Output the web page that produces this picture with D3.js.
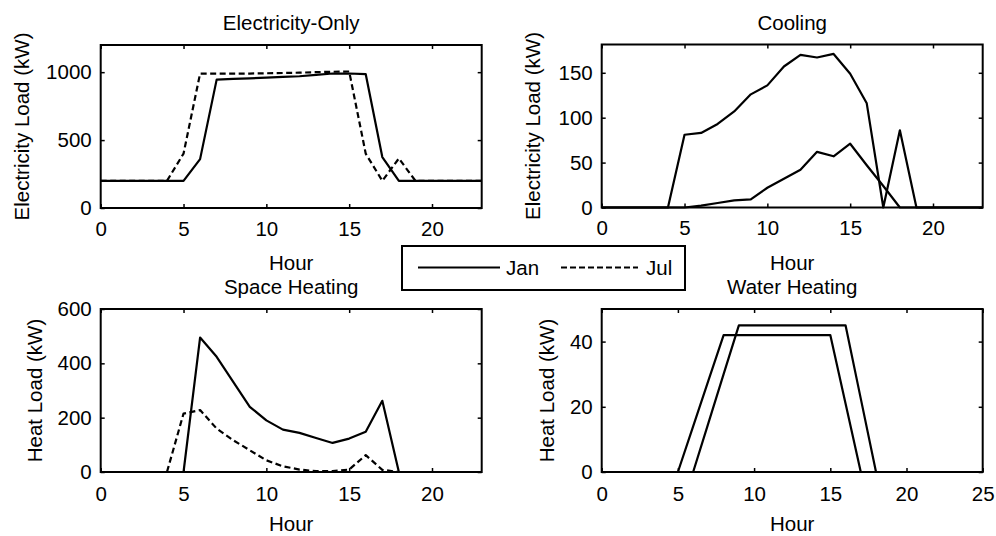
<!DOCTYPE html>
<html>
<head>
<meta charset="utf-8">
<script src="https://cdn.jsdelivr.net/npm/d3@7"></script>
<style>
body { margin: 0; background: #fff; }
text { font-family: "Liberation Sans", Arial, sans-serif; fill: #000; }
</style>
</head>
<body>
<div id="canvas"></div>
<script>
// ----------------------------------------------------------
// DATA -----------------------------------------------------
// ----------------------------------------------------------
var hours = [0,1,2,3,4,5,6,7,8,9,10,11,12,13,14,15,16,17,18,19,20,21,22,23];

var elec_jan = [200,200,200,200,200,200,360,945,950,955,960,965,970,980,990,990,985,375,200,200,200,200,200,200];
var elec_jul = [200,200,200,200,200,400,990,990,990,990,992,994,996,1000,1003,1005,400,200,365,200,200,200,200,200];

var cool_jan = [0,0,0,0,0,0,2,5,8,9,22,32,42,62,57,71,47,24,0,0,0,0,0,0];
var cool_jul = [0,0,0,0,0,81,83,93,107,126,136,157,170,167,171,149,116,0,86,0,0,0,0,0];

var heat_jan = [0,0,0,0,0,0,495,424,332,240,190,156,144,125,107,123,148,262,0,0,0,0,0,0];
var heat_jul = [0,0,0,0,0,215,228,160,117,80,43,21,9,3,3,9,62,8,0,0,0,0,0,0];

var water_jan = [0,0,0,0,0,0,0,15,30,45,45,45,45,45,45,45,45,22.5,0,0,0,0,0,0];
var water_jul = [0,0,0,0,0,0,14,28,42,42,42,42,42,42,42,42,21,0,0,0,0,0,0,0];

var titles = ["Electricity-Only", "Cooling", "Space Heating", "Water Heating"];
var y_labels = ["Electricity Load (kW)", "Electricity Load (kW)", "Heat Load (kW)", "Heat Load (kW)"];
var x_label = "Hour";
var legend_labels = ["Jan", "Jul"];

var x_ticks_a = [0, 5, 10, 15, 20];
var x_ticks_b = [0, 5, 10, 15, 20, 25];
var y_ticks_elec = [0, 500, 1000];
var y_ticks_cool = [0, 50, 100, 150];
var y_ticks_heat = [0, 200, 400, 600];
var y_ticks_water = [0, 20, 40];

// ----------------------------------------------------------
// STRUCTURE ------------------------------------------------
// ----------------------------------------------------------
var container = d3.select("#canvas").append("svg")
.attr("width", 996)
.attr("height", 536)
.style("background-color", "#fff");

var panels = [
{ left: 100.7, top: 45, x_max: 23, y_max: 1200, x_ticks: x_ticks_a, y_ticks: y_ticks_elec,
  series: [elec_jul, elec_jan], dashed: [true, false], ylab_off: 72, xlab_off: 62, tick_pad: 13 },
{ left: 601.7, top: 44.5, x_max: 23, y_max: 181.5, x_ticks: x_ticks_a, y_ticks: y_ticks_cool,
  series: [cool_jul, cool_jan], dashed: [false, false], ylab_off: 62, xlab_off: 62, tick_pad: 13 },
{ left: 100.7, top: 309, x_max: 23, y_max: 600, x_ticks: x_ticks_a, y_ticks: y_ticks_heat,
  series: [heat_jul, heat_jan], dashed: [true, false], ylab_off: 59, xlab_off: 58.5, tick_pad: 14 },
{ left: 601.7, top: 309, x_max: 25, y_max: 50, x_ticks: x_ticks_b, y_ticks: y_ticks_water,
  series: [water_jul, water_jan], dashed: [false, false], ylab_off: 48, xlab_off: 58.5, tick_pad: 14 }
];

var pw = 381;
var ph = 163;
var font_size = "20.5px";

// ----------------------------------------------------------
// GFX ------------------------------------------------------
// ----------------------------------------------------------
panels.forEach(function(p, i) {
  var g = container.append("g")
  .attr("class", "panel_" + i)
  .attr("transform", `translate(${p.left}, ${p.top})`);

  var xScale = d3.scaleLinear().domain([0, p.x_max]).range([0, pw]);
  var yScale = d3.scaleLinear().domain([0, p.y_max]).range([ph, 0]);

  // lines
  var line = d3.line()
  .x((d, k) => xScale(hours[k]))
  .y(d => yScale(d));

  p.series.forEach(function(s, k) {
    g.append("path")
    .datum(s)
    .attr("d", line)
    .attr("fill", "none")
    .attr("stroke", "#000")
    .attr("stroke-width", 2.2)
    .attr("stroke-linejoin", "round")
    .attr("stroke-dasharray", p.dashed[k] ? "6,3.5" : null);
  });

  // axes
  var ax_bottom = g.append("g")
  .attr("transform", `translate(0, ${ph})`)
  .call(d3.axisBottom(xScale).tickValues(p.x_ticks).tickSize(-4).tickPadding(p.tick_pad).tickFormat(d3.format("d")));
  var ax_top = g.append("g")
  .call(d3.axisTop(xScale).tickValues(p.x_ticks).tickSize(-4).tickFormat(""));
  var ax_left = g.append("g")
  .call(d3.axisLeft(yScale).tickValues(p.y_ticks).tickSize(-4).tickPadding(9).tickFormat(d3.format("d")));
  var ax_right = g.append("g")
  .attr("transform", `translate(${pw}, 0)`)
  .call(d3.axisRight(yScale).tickValues(p.y_ticks).tickSize(-4).tickFormat(""));

  [ax_bottom, ax_top, ax_left, ax_right].forEach(function(a) {
    a.select(".domain").remove();
    a.selectAll(".tick line").attr("stroke", "#000").attr("stroke-width", 1.5);
    a.selectAll(".tick text")
    .style("font-size", font_size)
    .style("font-family", "'Liberation Sans', Arial, sans-serif")
    .attr("fill", "#000");
  });

  // box
  g.append("rect")
  .attr("x", 0)
  .attr("y", 0)
  .attr("width", pw)
  .attr("height", ph)
  .attr("fill", "none")
  .attr("stroke", "#000")
  .attr("stroke-width", 2);

  // title
  g.append("text")
  .attr("x", pw / 2)
  .attr("y", -15)
  .attr("text-anchor", "middle")
  .style("font-size", font_size)
  .text(titles[i]);

  // x label
  g.append("text")
  .attr("x", pw / 2)
  .attr("y", ph + p.xlab_off)
  .attr("text-anchor", "middle")
  .style("font-size", font_size)
  .text(x_label);

  // y label
  g.append("text")
  .attr("transform", `translate(${-p.ylab_off}, ${ph / 2}) rotate(-90)`)
  .attr("text-anchor", "middle")
  .style("font-size", font_size)
  .text(y_labels[i]);
});

// ----------------------------------------------------------
// LEGEND ---------------------------------------------------
// ----------------------------------------------------------
var legend = container.append("g")
.attr("class", "legend")
.attr("transform", "translate(402, 246)");

legend.append("rect")
.attr("width", 283)
.attr("height", 44)
.attr("fill", "#fff")
.attr("stroke", "#000")
.attr("stroke-width", 2);

var legend_items = [
{ x1: 16, x2: 98, tx: 104, dashed: false },
{ x1: 159, x2: 236, tx: 244, dashed: true }
];

legend_items.forEach(function(it, k) {
  legend.append("line")
  .attr("x1", it.x1)
  .attr("x2", it.x2)
  .attr("y1", 21.5)
  .attr("y2", 21.5)
  .attr("stroke", "#000")
  .attr("stroke-width", 2)
  .attr("stroke-dasharray", it.dashed ? "6,3" : null);

  legend.append("text")
  .attr("x", it.tx)
  .attr("y", 28.5)
  .style("font-size", font_size)
  .text(legend_labels[k]);
});
</script>
</body>
</html>
